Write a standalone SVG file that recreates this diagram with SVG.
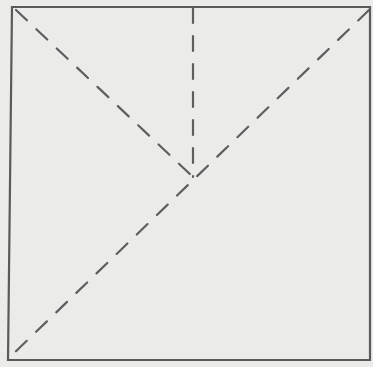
<svg xmlns="http://www.w3.org/2000/svg" width="373" height="367" viewBox="0 0 373 367">
<style>
.frame{fill:none;stroke:#5a5a5a;stroke-width:2.2}
.fold{fill:none;stroke:#5e5e5e;stroke-width:2.2;stroke-dasharray:15 13;stroke-linecap:round}
</style>
<rect width="373" height="367" fill="#ebebea"/>
<g id="square"><polygon class="frame" points="12,7 370,7 370,360 8,360"/></g>
<g id="folds">
<line class="fold" x1="16" y1="10" x2="193" y2="177"/>
<line class="fold" x1="193" y1="8" x2="193" y2="177"/>
<line class="fold" x1="369" y1="10" x2="9" y2="358"/>
</g>
</svg>
